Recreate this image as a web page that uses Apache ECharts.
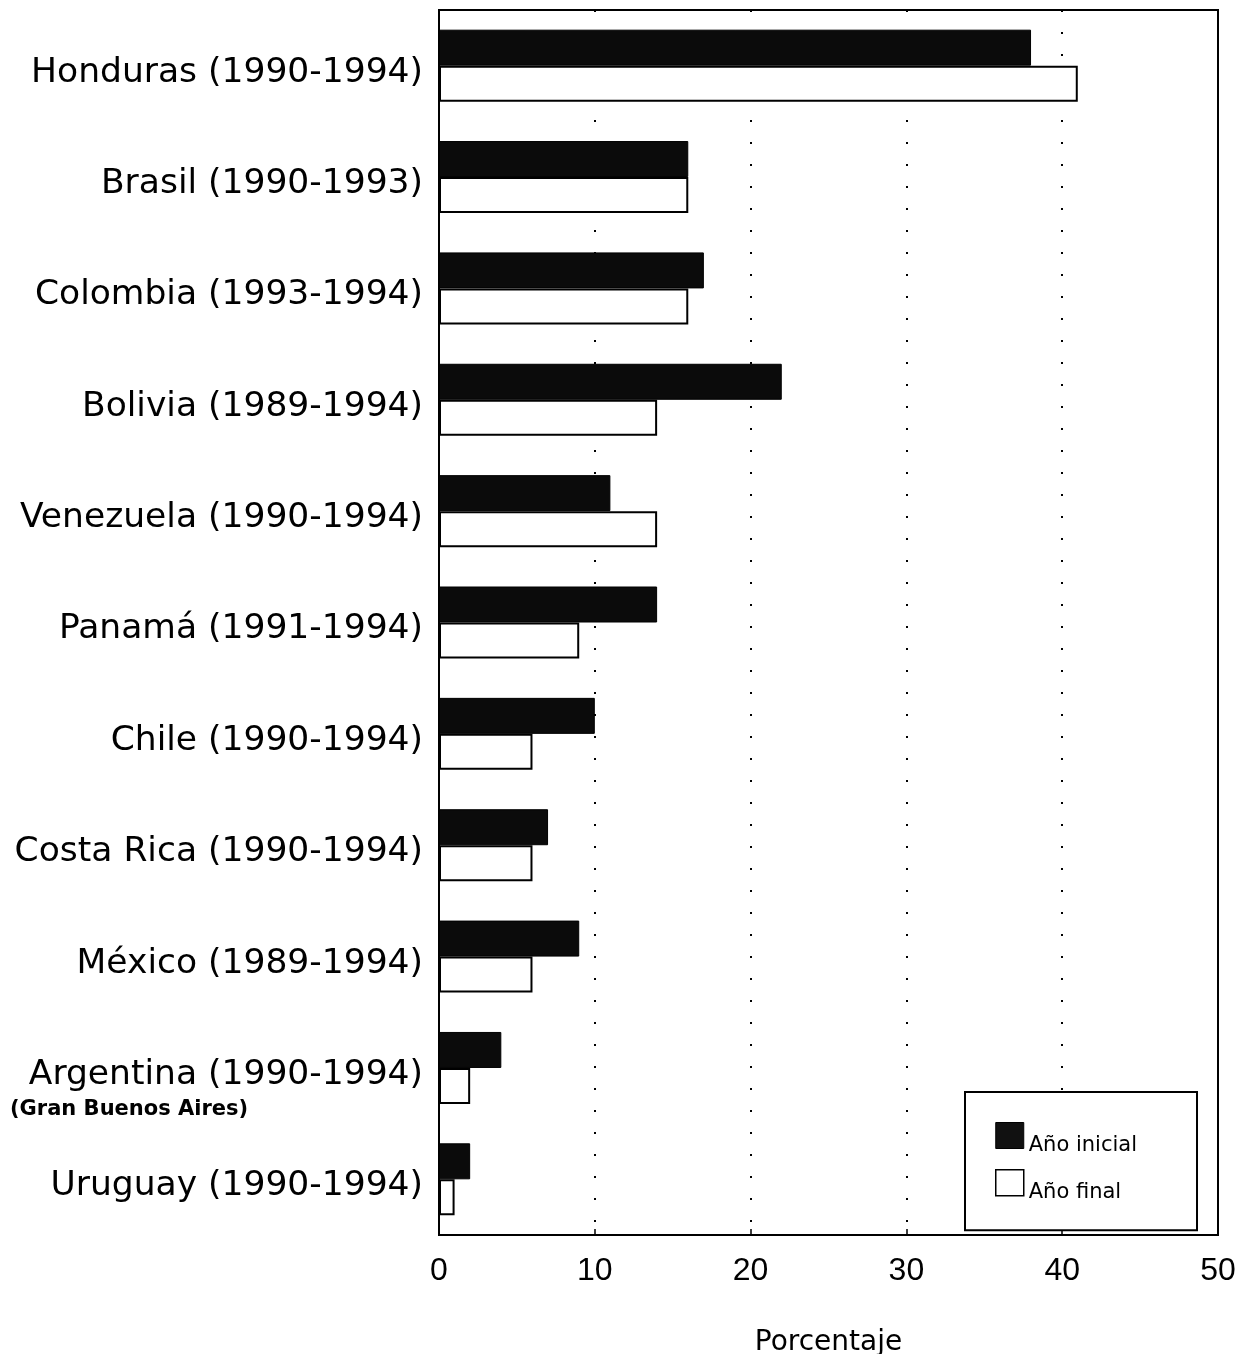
<!DOCTYPE html>
<html>
<head>
<meta charset="utf-8">
<script src="https://cdn.jsdelivr.net/npm/echarts@6/dist/echarts.min.js"></script>
<style>
  body { margin: 0; background: #fff; }
  #chart { width: 1241px; height: 1354px; }
</style>
</head>
<body>
<div id="chart"></div>
<script>
var paises = ['Honduras (1990-1994)', 'Brasil (1990-1993)', 'Colombia (1993-1994)', 'Bolivia (1989-1994)',
  'Venezuela (1990-1994)', 'Panamá (1991-1994)', 'Chile (1990-1994)', 'Costa Rica (1990-1994)',
  'México (1989-1994)', 'Argentina (1990-1994)', 'Uruguay (1990-1994)'];
var anoInicial = [38, 16, 17, 22, 11, 14, 10, 7, 9, 4, 2];
var anoFinal = [41, 16, 16, 14, 14, 9, 6, 6, 6, 2, 1];
var ejeTicks = [0, 10, 20, 30, 40, 50];

var chart = echarts.init(document.getElementById('chart'));
var option = {
  backgroundColor: '#fff',
  animation: false,
  grid: {
    left: 439, right: 23, top: 10, bottom: 119,
    outerBoundsMode: 'none',
    show: true, borderColor: '#000', borderWidth: 2
  },
  legend: {
    orient: 'vertical',
    left: 965, top: 1092,
    padding: [30, 60, 27, 30],
    itemWidth: 28, itemHeight: 26, itemGap: 13,
    borderColor: '#000', borderWidth: 2,
    backgroundColor: '#fff',
    formatter: '{t|{name}}',
    textStyle: {
      fontFamily: 'DejaVu Sans', fontSize: 21, color: '#000',
      rich: { t: { fontFamily: 'DejaVu Sans', fontSize: 21, color: '#000', padding: [20, 0, 0, 0] } }
    },
    data: [
      { name: 'Año inicial', icon: 'rect', itemStyle: { color: '#111', borderColor: '#000', borderWidth: 1 } },
      { name: 'Año final', icon: 'rect', itemStyle: { color: '#fff', borderColor: '#000', borderWidth: 1.5 } }
    ]
  },
  xAxis: {
    type: 'value', min: 0, max: 50, interval: 10,
    name: 'Porcentaje', nameLocation: 'middle', nameGap: 94,
    nameTextStyle: { fontFamily: 'DejaVu Sans', fontSize: 28, color: '#000' },
    axisLine: { show: true, lineStyle: { color: '#000', width: 2 } },
    axisTick: { show: true, inside: true, length: 6, lineStyle: { color: '#000', width: 1.5 } },
    axisLabel: {
      margin: 20, fontFamily: 'Liberation Sans', fontSize: 32, color: '#000',
      formatter: function (v) { return ejeTicks.indexOf(v) >= 0 ? String(v) : ''; }
    },
    splitLine: { show: true, lineStyle: { color: '#000', width: 2, type: [2, 20] } }
  },
  yAxis: {
    type: 'category', inverse: true, data: paises,
    axisLine: { show: true, lineStyle: { color: '#000', width: 2 } },
    axisTick: { show: false },
    axisLabel: {
      margin: 16, color: '#000',
      formatter: '{p|{value}}',
      rich: { p: { fontFamily: 'DejaVu Sans', fontSize: 34.5, color: '#000', padding: [14, 0, 0, 0] } }
    }
  },
  series: [
    {
      name: 'Año inicial', type: 'bar', data: anoInicial,
      barWidth: 36, barGap: '0%',
      itemStyle: { color: '#0b0b0b', borderColor: '#000', borderWidth: 1 }
    },
    {
      name: 'Año final', type: 'bar', data: anoFinal,
      barWidth: 36,
      itemStyle: { color: '#fff', borderColor: '#000', borderWidth: 2 }
    }
  ],
  graphic: [
    {
      type: 'text', left: 10, top: 1099,
      style: { text: '(Gran Buenos Aires)', fontFamily: 'DejaVu Sans', fontWeight: 'bold', fontSize: 21, fill: '#000' }
    }
  ]
};
chart.setOption(option);
</script>
</body>
</html>
